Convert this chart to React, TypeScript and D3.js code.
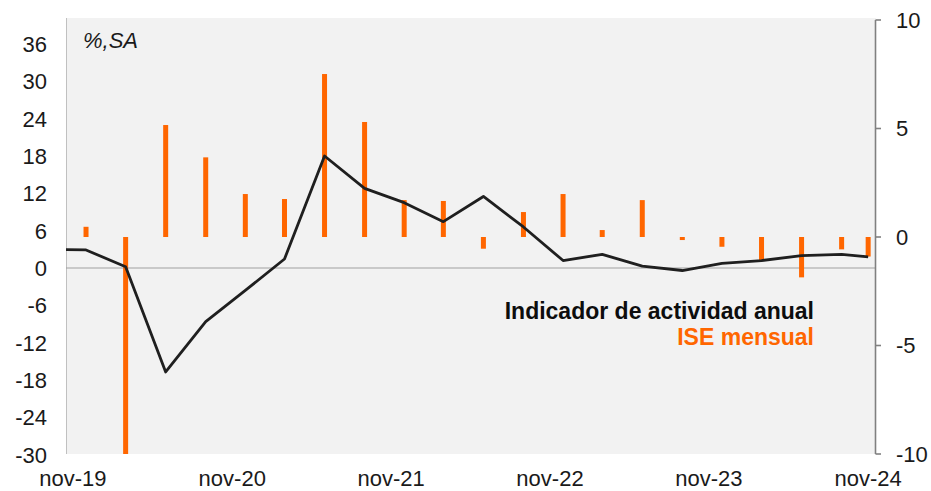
import React from "react";
import * as d3 from "d3";

const periods = [
  "2019-09", "2019-12", "2020-03", "2020-06", "2020-09", "2020-12", "2021-03", "2021-06",
  "2021-09", "2021-12", "2022-03", "2022-06", "2022-09", "2022-12", "2023-03", "2023-06",
  "2023-09", "2023-12", "2024-03", "2024-06", "2024-09", "2024-11",
];
const annualActivity = [
  3.0, 2.9, 0.2, -16.7, -8.6, -3.6, 1.45, 18.0, 12.8, 10.5, 7.45, 11.5, 6.6, 1.2, 2.2, 0.3,
  -0.4, 0.75, 1.2, 2.0, 2.2, 1.8,
];
const iseMonthly = [
  0.3, 0.47, -20.0, 5.16, 3.67, 1.98, 1.75, 7.51, 5.3, 1.7, 1.66, -0.54, 1.15, 1.98, 0.32, 1.7,
  -0.14, -0.45, -1.06, -1.86, -0.57, -0.9,
];
const xTickDates = ["2019-11", "2020-11", "2021-11", "2022-11", "2023-11", "2024-11"];
const xTickLabels = ["nov-19", "nov-20", "nov-21", "nov-22", "nov-23", "nov-24"];
const leftTicks = [-30, -24, -18, -12, -6, 0, 6, 12, 18, 24, 30, 36];
const rightTicks = [-10, -5, 0, 5, 10];

const parse = d3.timeParse("%Y-%m");
const FONT = "'Liberation Sans', Arial, Helvetica, sans-serif";
const ORANGE = "#FF6600";

export default function App() {
  const plot = { left: 66, right: 876, top: 18, bottom: 454 };
  const x = d3
    .scaleTime()
    .domain([new Date(2019, 9, 16), new Date(2024, 10, 19)])
    .range([plot.left, plot.right]);
  const yL = d3.scaleLinear().domain([-30, 36]).range([454.7, 44]);
  const yR = d3.scaleLinear().domain([-10, 10]).range([454, 20]);

  const data = periods.map((p, i) => ({
    d: parse(p) as Date,
    a: annualActivity[i],
    b: iseMonthly[i],
  }));

  const line = d3
    .line<{ d: Date; a: number }>()
    .x((p) => x(p.d))
    .y((p) => yL(p.a));

  const barW = 5;

  return (
    <div style={{ position: "absolute", left: 0, top: 0 }}>
      <svg width={931} height={491} style={{ display: "block", fontFamily: FONT }}>
        <defs>
          <clipPath id="plotClip">
            <rect x={plot.left} y={plot.top} width={plot.right - plot.left} height={plot.bottom - plot.top} />
          </clipPath>
        </defs>
        <rect x={0} y={0} width={931} height={491} fill="#ffffff" />
        <rect
          x={plot.left}
          y={plot.top}
          width={plot.right - plot.left}
          height={plot.bottom - plot.top}
          fill="#F2F2F2"
        />
        <line x1={plot.left + 0.5} x2={plot.left + 0.5} y1={plot.top} y2={plot.bottom} stroke="#C0C0C0" strokeWidth={1} />
        <line x1={plot.left} x2={plot.right} y1={yL(0)} y2={yL(0)} stroke="#A0A0A0" strokeWidth={1.2} />

        <g clipPath="url(#plotClip)">
          {data.map((p, i) => {
            const y0 = yR(0);
            const y1 = yR(p.b);
            return (
              <rect
                key={i}
                x={x(p.d) - barW / 2}
                y={Math.min(y0, y1)}
                width={barW}
                height={Math.abs(y1 - y0)}
                fill={ORANGE}
              />
            );
          })}
          <path d={line(data) || ""} fill="none" stroke="#1f1f1f" strokeWidth={2.8} strokeLinejoin="round" />
        </g>

        {/* right axis */}
        <line x1={plot.right - 0.5} x2={plot.right - 0.5} y1={yR(10)} y2={yR(-10)} stroke="#808080" strokeWidth={1.6} />
        {rightTicks.map((t) => (
          <g key={t}>
            <line x1={plot.right - 0.5} x2={plot.right + 5} y1={yR(t)} y2={yR(t)} stroke="#808080" strokeWidth={1.6} />
            <text x={896} y={yR(t)} dy="0.36em" fontSize={22} fill="#1a1a1a" textAnchor="start">
              {t}
            </text>
          </g>
        ))}

        {/* left axis labels */}
        {leftTicks.map((t) => (
          <text key={t} x={47} y={yL(t)} dy="0.36em" fontSize={22} fill="#1a1a1a" textAnchor="end">
            {t}
          </text>
        ))}

        {/* x axis labels */}
        {xTickDates.map((s, i) => (
          <text key={s} x={x(parse(s) as Date)} y={485.5} fontSize={22} fill="#1a1a1a" textAnchor="middle">
            {xTickLabels[i]}
          </text>
        ))}

        <text x={83} y={48} fontSize={22} fontStyle="italic" fill="#1a1a1a">
          %,SA
        </text>

        <text x={814} y={319} fontSize={23} fontWeight="bold" fill="#0D0D0D" textAnchor="end">
          Indicador de actividad anual
        </text>
        <text x={814} y={344.5} fontSize={23} fontWeight="bold" fill={ORANGE} textAnchor="end">
          ISE mensual
        </text>
      </svg>
    </div>
  );
}
